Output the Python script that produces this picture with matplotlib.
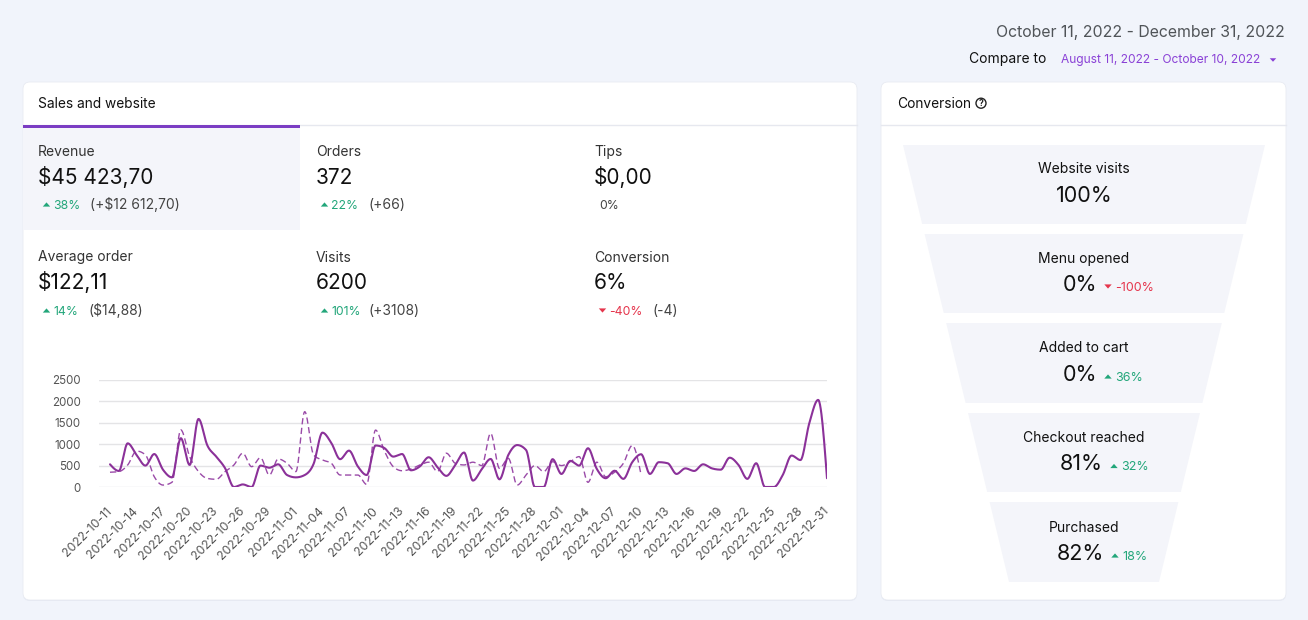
import numpy as np
import matplotlib
matplotlib.use("Agg")
import matplotlib.pyplot as plt
from matplotlib.patches import FancyBboxPatch, Polygon, Rectangle, Circle

plt.rcParams['font.family'] = ['Inter', 'DejaVu Sans']

# ---------------- data ----------------
current_period = [530, 375, 1020, 750, 500, 770, 400, 225, 1140, 515,
                  1590, 970, 710, 440, 0, 60, 0, 500, 450, 530,
                  280, 225, 280, 540, 1270, 1030, 650, 850, 480, 280,
                  970, 910, 710, 770, 390, 480, 695, 460, 260, 515,
                  805, 150, 415, 655, 180, 750, 980, 865, 0, 0,
                  650, 305, 610, 500, 905, 420, 205, 380, 190, 580,
                  765, 305, 580, 555, 305, 435, 375, 530, 435, 405,
                  685, 515, 190, 555, 0, 0, 280, 735, 630, 1490,
                  2035, 205]
previous_period = [345, 360, 515, 840, 750, 240, 45, 110, 1335, 710,
                   360, 200, 180, 360, 515, 790, 475, 685, 280, 655,
                   555, 360, 1760, 750, 630, 555, 280, 280, 280, 60,
                   1330, 840, 475, 380, 420, 515, 580, 360, 790, 555,
                   515, 580, 500, 1255, 435, 670, 45, 280, 500, 360,
                   590, 500, 590, 710, 110, 580, 240, 345, 555, 970,
                   280]
tick_labels = ['2022-10-11', '2022-10-14', '2022-10-17', '2022-10-20', '2022-10-23',
               '2022-10-26', '2022-10-29', '2022-11-01', '2022-11-04', '2022-11-07',
               '2022-11-10', '2022-11-13', '2022-11-16', '2022-11-19', '2022-11-22',
               '2022-11-25', '2022-11-28', '2022-12-01', '2022-12-04', '2022-12-07',
               '2022-12-10', '2022-12-13', '2022-12-16', '2022-12-19', '2022-12-22',
               '2022-12-25', '2022-12-28', '2022-12-31']
y_ticks = [0, 500, 1000, 1500, 2000, 2500]

metric_labels = ['Revenue', 'Orders', 'Tips', 'Average order', 'Visits', 'Conversion']
metric_values = ['$45 423,70', '372', '$0,00', '$122,11', '6200', '6%']
metric_pct = ['38%', '22%', '0%', '14%', '101%', '-40%']
metric_diff = ['(+$12 612,70)', '(+66)', '', '($14,88)', '(+3108)', '(-4)']
metric_dir = ['up', 'up', 'none', 'up', 'up', 'down']

funnel_steps = ['Website visits', 'Menu opened', 'Added to cart', 'Checkout reached', 'Purchased']
funnel_values = ['100%', '0%', '0%', '81%', '82%']
funnel_delta = ['', '-100%', '36%', '32%', '18%']
funnel_dir = ['none', 'down', 'up', 'up', 'up']

# ---------------- styles ----------------
W, H = 1308, 620
BG = '#f1f4fb'
TILE = '#f4f5fa'
GREEN = '#22a67a'
RED = '#e5354c'
PURPLE_TXT = '#8a41d6'
LINE = '#8b3199'


def monotone(y, n=24):
    y = np.asarray(y, float)
    m = len(y)
    x = np.arange(m, dtype=float)
    s = np.diff(y)
    t = np.zeros(m)
    for i in range(1, m - 1):
        s0, s1 = s[i - 1], s[i]
        p = (s0 + s1) / 2
        t[i] = (np.sign(s0) + np.sign(s1)) * min(abs(s0), abs(s1), 0.5 * abs(p))
    t[0] = (3 * s[0] - t[1]) / 2 if m > 2 else s[0]
    t[-1] = (3 * s[-1] - t[-2]) / 2 if m > 2 else s[-1]
    xs, ys = [], []
    for i in range(m - 1):
        u = np.linspace(0, 1, n, endpoint=False)
        h00 = 2 * u**3 - 3 * u**2 + 1
        h10 = u**3 - 2 * u**2 + u
        h01 = -2 * u**3 + 3 * u**2
        h11 = u**3 - u**2
        xs.append(x[i] + u)
        ys.append(h00 * y[i] + h10 * t[i] + h01 * y[i + 1] + h11 * t[i + 1])
    xs.append([x[-1]])
    ys.append([y[-1]])
    return np.concatenate(xs), np.concatenate(ys)


fig = plt.figure(figsize=(W / 100, H / 100), dpi=100)
fig.patch.set_facecolor(BG)
bg = fig.add_axes([0, 0, 1, 1])
bg.set_xlim(0, W)
bg.set_ylim(H, 0)
bg.axis('off')
bg.set_zorder(0)


def card(x0, y0, x1, y1):
    sh = FancyBboxPatch((x0, y0 + 1), x1 - x0, y1 - y0, boxstyle='round,pad=0,rounding_size=7',
                        fc='#dfe3ee', ec='none', alpha=0.6, zorder=1)
    bg.add_patch(sh)
    c = FancyBboxPatch((x0, y0), x1 - x0, y1 - y0, boxstyle='round,pad=0,rounding_size=7',
                       fc='white', ec='#e8ebf2', lw=0.6, zorder=2)
    bg.add_patch(c)
    bg.plot([x0, x1], [125, 125], color='#e6e8ef', lw=1, zorder=3)


def tri(cx, cy, up, color, w=7.4, h=4.2):
    if up:
        pts = [(cx - w / 2, cy + h / 2), (cx + w / 2, cy + h / 2), (cx, cy - h / 2)]
    else:
        pts = [(cx - w / 2, cy - h / 2), (cx + w / 2, cy - h / 2), (cx, cy + h / 2)]
    bg.add_patch(Polygon(pts, closed=True, fc=color, ec='none', zorder=6))


# header
bg.text(1285, 36.7, 'October 11, 2022 - December 31, 2022', ha='right', va='baseline',
        fontsize=11.4, color='#505458', zorder=5)
bg.text(969, 63.3, 'Compare to', ha='left', va='baseline', fontsize=10, color='#111111', zorder=5)
bg.text(1061, 63.3, 'August 11, 2022 - October 10, 2022', ha='left', va='baseline',
        fontsize=8.6, color=PURPLE_TXT, zorder=5)
tri(1273, 60, False, PURPLE_TXT, w=6.5, h=3.5)

# cards
card(23, 82, 857, 600)
card(881, 82, 1286, 600)

bg.text(38, 108, 'Sales and website', ha='left', va='baseline', fontsize=9.9, color='#111111', zorder=5)
bg.text(897, 108, 'Conversion', ha='left', va='baseline', fontsize=9.9, color='#111111', zorder=5)
bg.add_patch(Circle((981, 103.2), 5, fc='none', ec='#222222', lw=1.0, zorder=5))
bg.text(981, 106.3, '?', ha='center', va='baseline', fontsize=6.2, color='#222222',
        fontweight='bold', zorder=6)

# highlighted tile + underline
bg.add_patch(Rectangle((23, 127), 277, 103, fc=TILE, ec='none', zorder=3))
bg.add_patch(Rectangle((23, 124.5), 277, 3, fc='#7b3dc3', ec='none', zorder=4))

cols = [38, 316, 594]
rows = [(156, 184, 209), (261.5, 289, 315)]
for k in range(6):
    cx = cols[k % 3]
    yl, yv, yd = rows[k // 3]
    bg.text(cx, yl, metric_labels[k], ha='left', va='baseline', fontsize=10, color='#333333', zorder=5)
    bg.text(cx, yv, metric_values[k], ha='left', va='baseline', fontsize=15, color='#111111', zorder=5)
    if metric_dir[k] == 'none':
        bg.text(cx + 5, yd, metric_pct[k], ha='left', va='baseline', fontsize=8.8, color='#444444', zorder=5)
        continue
    col = GREEN if metric_dir[k] == 'up' else RED
    tri(cx + 8.5, yd - 4.5, metric_dir[k] == 'up', col)
    bg.text(cx + 15.5, yd, metric_pct[k], ha='left', va='baseline', fontsize=8.8, color=col, zorder=5)
    px = cx + 52 if k != 3 else cx + 50
    if k == 5:
        px = cx + 58
    bg.text(px, yd, metric_diff[k], ha='left', va='baseline', fontsize=10, color='#444444', zorder=5)

# funnel
segs = [(145, 224), (234, 313), (323, 403), (413, 492), (502, 582)]
top_y, lx0, rx0 = 145, 903, 1265
slope = 106 / 437
label_base = [173, 263, 352, 442.5, 531.7]
value_base = [202, 291, 381, 470.5, 560]
value_right = [None, 1097, 1097, 1103, 1104]
for i, (ya, yb) in enumerate(segs):
    la = lx0 + (ya - top_y) * slope
    lb = lx0 + (yb - top_y) * slope
    ra = rx0 - (ya - top_y) * slope
    rb = rx0 - (yb - top_y) * slope
    bg.add_patch(Polygon([(la, ya), (ra, ya), (rb, yb), (lb, yb)], closed=True,
                         fc=TILE, ec='none', zorder=3))
    bg.text(1084, label_base[i], funnel_steps[i], ha='center', va='baseline',
            fontsize=10, color='#111111', zorder=5)
    if funnel_dir[i] == 'none':
        bg.text(1084, value_base[i], funnel_values[i], ha='center', va='baseline',
                fontsize=15.5, color='#111111', zorder=5)
    else:
        vr = value_right[i]
        col = GREEN if funnel_dir[i] == 'up' else RED
        bg.text(vr, value_base[i], funnel_values[i], ha='right', va='baseline',
                fontsize=15.5, color='#111111', zorder=5)
        tri(vr + 11, value_base[i] - 4.5, funnel_dir[i] == 'up', col)
        bg.text(vr + 18, value_base[i], funnel_delta[i], ha='left', va='baseline',
                fontsize=9, color=col, zorder=5)

# ---------------- line chart ----------------
ax_l, ax_r, ax_b, ax_t = 99, 827, 487, 380
ax = fig.add_axes([ax_l / W, 1 - ax_b / H, (ax_r - ax_l) / W, (ax_b - ax_t) / H])
ax.set_zorder(2)
ax.patch.set_alpha(0)
x0_pix = 110
per_day = (ax_r - x0_pix) / (len(current_period) - 1)
ax.set_xlim(-(x0_pix - ax_l) / per_day, len(current_period) - 1)
ax.set_ylim(0, 2500)

px, py = monotone(previous_period)
ax.plot(px, py, color='#9a4aa8', lw=1.0, linestyle=(0, (4.5, 2.5)), zorder=3)
cx_, cy_ = monotone(current_period)
ax.plot(cx_, cy_, color=LINE, lw=1.5, zorder=4, solid_capstyle='round')

ax.set_yticks(y_ticks)
ax.set_yticklabels([str(v) for v in y_ticks])
ax.grid(axis='y', color='#e4e4e6', lw=1)
ax.set_axisbelow(True)
ax.set_xticks(np.arange(0, len(current_period), 3))
ax.set_xticklabels(tick_labels, rotation=45, ha='right', rotation_mode='anchor', va='center')
ax.tick_params(axis='x', length=0, pad=16, labelsize=8.8, labelcolor='#555555')
ax.tick_params(axis='y', length=0, pad=13, labelsize=8.3, labelcolor='#555555')
for s in ax.spines.values():
    s.set_visible(False)

fig.savefig('out.png', dpi=100, facecolor=BG)
